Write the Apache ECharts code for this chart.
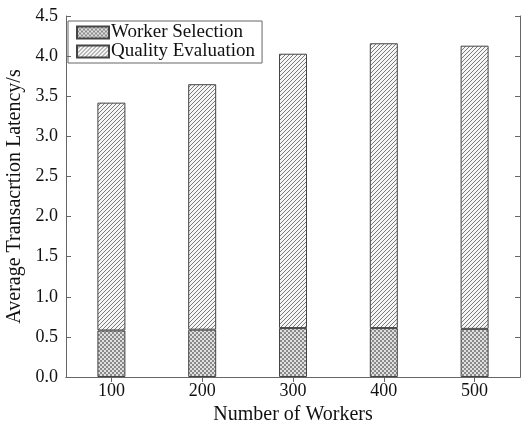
<!DOCTYPE html>
<html>
<head>
<meta charset="utf-8">
<script src="https://cdn.jsdelivr.net/npm/echarts@6/dist/echarts.min.js"></script>
<style>
  html, body { margin: 0; padding: 0; background: #fff; }
  #chart { width: 522px; height: 423px; }
</style>
</head>
<body>
<div id="chart"></div>
<script>
// values
let workers = ['100', '200', '300', '400', '500']
let workerSelection = [0.58, 0.59, 0.61, 0.61, 0.60]
let qualityEvaluation = [2.84, 3.06, 3.42, 3.55, 3.53]
let yTicks = [0, 0.5, 1.0, 1.5, 2.0, 2.5, 3.0, 3.5, 4.0, 4.5]

let font = '"Liberation Serif", "DejaVu Serif", serif'
let frame = '#666'

// fill patterns for the two parts of each bar
function hatchPattern() {
	let s = 4
	let c = document.createElement('canvas')
	c.width = s
	c.height = s
	let ctx = c.getContext('2d')
	ctx.fillStyle = '#f6f6f6'
	ctx.fillRect(0, 0, s, s)
	ctx.strokeStyle = '#7a7a7a'
	ctx.lineWidth = 1
	ctx.beginPath()
	ctx.moveTo(0, s); ctx.lineTo(s, 0)
	ctx.moveTo(-1, 1); ctx.lineTo(1, -1)
	ctx.moveTo(s - 1, s + 1); ctx.lineTo(s + 1, s - 1)
	ctx.stroke()
	return c
}

function checkerPattern() {
	let c = document.createElement('canvas')
	c.width = 4
	c.height = 4
	let ctx = c.getContext('2d')
	ctx.fillStyle = '#e0e0e0'
	ctx.fillRect(0, 0, 4, 4)
	ctx.fillStyle = '#8a8a8a'
	ctx.fillRect(0, 0, 2, 2)
	ctx.fillRect(2, 2, 2, 2)
	return c
}

let myChart = echarts.init(document.getElementById('chart'), null, {renderer: 'canvas'})

let tickStyle = {show: true, inside: true, length: 5, lineStyle: {color: frame}}

let option = {
	animation: false,
	backgroundColor: '#fff',
	grid: {
		left: 66,
		right: 2,
		top: 16,
		bottom: 46,
		outerBoundsMode: 'none'
	},
	legend: {
		orient: 'vertical',
		left: 68,
		top: 21,
		itemWidth: 32,
		itemHeight: 12,
		itemGap: 0,
		padding: [2, 7, 2, 8],
		borderColor: frame,
		borderWidth: 1,
		icon: 'rect',
		textStyle: {
			fontFamily: font,
			fontSize: 19,
			color: '#111',
			padding: [0, 0, 0, -3]
		},
		data: ['Worker Selection', 'Quality Evaluation']
	},
	xAxis: [{
		type: 'category',
		data: workers,
		name: 'Number of Workers',
		nameLocation: 'middle',
		nameGap: 26,
		nameTextStyle: {fontFamily: font, fontSize: 20, color: '#111'},
		axisLine: {lineStyle: {color: frame}},
		axisTick: Object.assign({alignWithLabel: true}, tickStyle),
		axisLabel: {fontFamily: font, fontSize: 18, color: '#111', margin: 5}
	}, {
		type: 'category',
		data: workers,
		position: 'top',
		axisLine: {show: true, lineStyle: {color: frame}},
		axisTick: Object.assign({alignWithLabel: true}, tickStyle),
		axisLabel: {show: false}
	}],
	yAxis: [{
		type: 'value',
		min: yTicks[0],
		max: yTicks[yTicks.length - 1],
		interval: 0.5,
		name: 'Average Transacrtion Latency/s',
		nameLocation: 'middle',
		nameGap: 34,
		nameTextStyle: {fontFamily: font, fontSize: 20, color: '#111'},
		axisLine: {show: true, lineStyle: {color: frame}},
		axisTick: tickStyle,
		splitLine: {show: false},
		axisLabel: {
			fontFamily: font,
			fontSize: 18,
			color: '#111',
			margin: 8,
			formatter: function (v) { return v.toFixed(1) }
		}
	}, {
		type: 'value',
		min: yTicks[0],
		max: yTicks[yTicks.length - 1],
		interval: 0.5,
		position: 'right',
		axisLine: {show: true, lineStyle: {color: frame}},
		axisTick: tickStyle,
		splitLine: {show: false},
		axisLabel: {show: false}
	}],
	series: [{
		name: 'Worker Selection',
		type: 'bar',
		stack: 'total',
		barWidth: 28,
		data: workerSelection,
		itemStyle: {
			color: {image: checkerPattern(), repeat: 'repeat'},
			borderColor: '#444',
			borderWidth: 1
		}
	}, {
		name: 'Quality Evaluation',
		type: 'bar',
		stack: 'total',
		barWidth: 28,
		data: qualityEvaluation,
		itemStyle: {
			color: {image: hatchPattern(), repeat: 'repeat'},
			borderColor: '#444',
			borderWidth: 1
		}
	}]
}

myChart.setOption(option)
</script>
</body>
</html>
